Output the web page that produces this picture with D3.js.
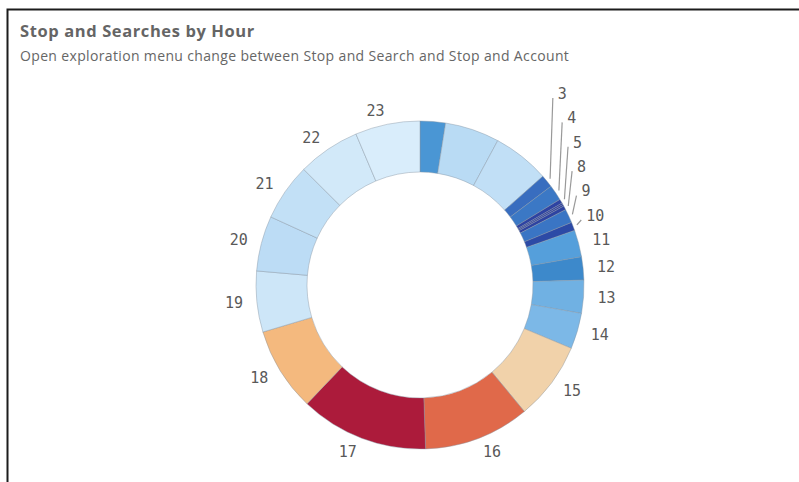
<!DOCTYPE html>
<html>
<head>
<meta charset="utf-8">
<script src="https://cdn.jsdelivr.net/npm/d3@7"></script>
<style>
  body { margin: 0; background: #fff; }
  svg { display: block; }
</style>
</head>
<body>
<svg id="chart" width="799" height="482"></svg>
<script>
// hour of day (dimension) and number of stop and searches (measure)
const hours = ["0", "1", "2", "3", "4", "5", "6", "7", "8", "9", "10", "11",
               "12", "13", "14", "15", "16", "17", "18", "19", "20", "21", "22", "23"];
const searches = [225, 483, 505, 113, 138, 38, 15, 15, 35, 123, 75, 238,
                  205, 293, 318, 695, 940, 1138, 745, 540, 490, 508, 555, 575];
// Qlik dropped some labels, keep the same ones
const labelled = ["3", "4", "5", "8", "9", "10", "11", "12", "13", "14", "15",
                  "16", "17", "18", "19", "20", "21", "22", "23"];

const title = "Stop and Searches by Hour";
const subtitle = "Open exploration menu change between Stop and Search and Stop and Account";

const width = 799, height = 482;
const cx = 420, cy = 285;
const outerR = 164, innerR = 113, labelR = 178;
const lineGap = 24.4;

const svg = d3.select("#chart");

// frame (only top and left edges are visible in the screenshot)
svg.append("path")
    .attr("d", "M" + width + ",9.5H7.5V" + height)
    .attr("fill", "none")
    .attr("stroke", "#1c1c1c")
    .attr("stroke-width", 2);

svg.append("text")
    .attr("x", 20).attr("y", 37)
    .attr("font-family", "'Open Sans', sans-serif")
    .attr("font-weight", 700)
    .attr("font-size", 16.5)
    .attr("letter-spacing", 0.6)
    .attr("fill", "#656565")
    .text(title);

svg.append("text")
    .attr("x", 20).attr("y", 61)
    .attr("font-family", "'Open Sans', sans-serif")
    .attr("font-size", 14)
    .attr("letter-spacing", 0.35)
    .attr("fill", "#666")
    .text(subtitle);

// colour by measure, blue (low) -> red (high)
const color = d3.scaleLinear()
    .domain([15, 75, 120, 210, 240, 320, 490, 580, 690, 750, 940, 1140])
    .range(["#2f3f9f", "#2c4aa6", "#3a74c4", "#3d8acb", "#57a1dc", "#7db9e7",
            "#bcdcf5", "#dbeefb", "#f1d4ae", "#f4b67a", "#e0694a", "#ab1a3b"])
    .clamp(true);

const data = hours.map((h, i) => ({ hour: h, value: searches[i] }));

const pie = d3.pie().sort(null).value(d => d.value);
const arcs = pie(data);
const arc = d3.arc().innerRadius(innerR).outerRadius(outerR);

const g = svg.append("g").attr("transform", `translate(${cx},${cy})`);

g.selectAll("path.slice")
    .data(arcs)
    .join("path")
    .attr("class", "slice")
    .attr("d", arc)
    .attr("fill", d => color(d.data.value))
    .attr("stroke", "#8796a3")
    .attr("stroke-opacity", 0.55)
    .attr("stroke-width", 0.8);

// labels sit at labelR around the slice middle, pushed up when they collide
let labels = arcs
    .filter(d => labelled.includes(d.data.hour))
    .map(d => {
        const mid = (d.startAngle + d.endAngle) / 2;
        const x = labelR * Math.sin(mid);
        const y = -labelR * Math.cos(mid);
        return { d, mid, x, y, natY: y, right: mid < Math.PI };
    });

[true, false].forEach(side => {
    const list = labels.filter(l => l.right === side).sort((a, b) => b.natY - a.natY);
    let prev = Infinity;
    list.forEach(l => {
        l.y = Math.min(l.natY, prev - lineGap);
        prev = l.y;
    });
});

const moved = labels.filter(l => l.natY - l.y > 2);

g.selectAll("line.leader")
    .data(moved)
    .join("line")
    .attr("class", "leader")
    .attr("x1", l => (outerR + 4) * Math.sin(l.mid))
    .attr("y1", l => -(outerR + 4) * Math.cos(l.mid))
    .attr("x2", l => l.x - 5)
    .attr("y2", l => l.y + 4.5)
    .attr("stroke", "#999")
    .attr("stroke-width", 1.2);

g.selectAll("text.lbl")
    .data(labels)
    .join("text")
    .attr("class", "lbl")
    .attr("x", l => l.x)
    .attr("y", l => l.y)
    .attr("dy", "0.35em")
    .attr("text-anchor", l => l.right ? "start" : "end")
    .attr("font-family", "'DejaVu Sans Mono', monospace")
    .attr("font-size", 15)
    .attr("fill", "#595959")
    .text(l => l.d.data.hour);
</script>
</body>
</html>
